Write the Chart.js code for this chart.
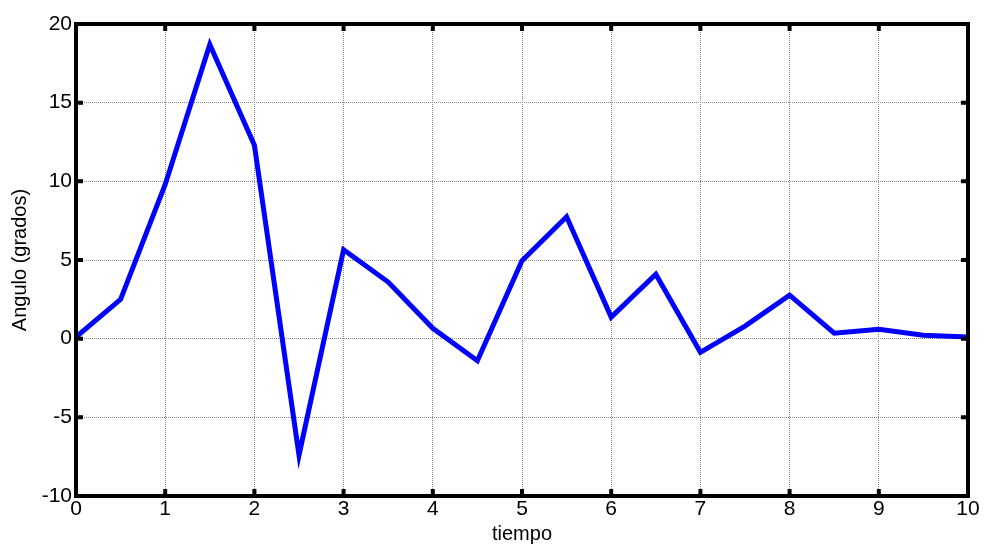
<!DOCTYPE html>
<html>
<head>
<meta charset="utf-8">
<script src="https://cdn.jsdelivr.net/npm/chart.js@4/dist/chart.umd.min.js"></script>
<style>
  html, body { margin: 0; padding: 0; background: #fff; }
  #wrap { width: 984px; height: 546px; }
</style>
</head>
<body>
<div id="wrap"><canvas id="c" width="984" height="546"></canvas></div>
<script>
// tiempo (s) and angle (degrees)
const tiempo = [0, 0.5, 1, 1.5, 2, 2.5, 3, 3.5, 4, 4.5, 5, 5.5, 6, 6.5, 7, 7.5, 8, 8.5, 9, 9.5, 10];
const angulo = [0.1, 2.5, 9.8, 18.7, 12.3, -7.4, 5.65, 3.6, 0.66, -1.4, 4.95, 7.75, 1.37, 4.1, -0.87, 0.8, 2.77, 0.35, 0.6, 0.22, 0.1];
const xTicks = [0, 1, 2, 3, 4, 5, 6, 7, 8, 9, 10];
const yTicks = [-10, -5, 0, 5, 10, 15, 20];

const FONT = 'Liberation Sans, Arial, sans-serif';

/* frame + inward tick marks, matlab style */
const framePlugin = {
  id: 'frame',
  afterDraw(chart) {
    const { ctx, chartArea: a, scales } = chart;
    ctx.save();
    ctx.strokeStyle = '#000';
    ctx.lineWidth = 4;
    const tl = 7;
    xTicks.forEach(v => {
      const px = scales.x.getPixelForValue(v);
      ctx.beginPath();
      ctx.moveTo(px, a.bottom); ctx.lineTo(px, a.bottom - tl);
      ctx.moveTo(px, a.top); ctx.lineTo(px, a.top + tl);
      ctx.stroke();
    });
    yTicks.forEach(v => {
      const py = scales.y.getPixelForValue(v);
      ctx.beginPath();
      ctx.moveTo(a.left, py); ctx.lineTo(a.left + tl, py);
      ctx.moveTo(a.right, py); ctx.lineTo(a.right - tl, py);
      ctx.stroke();
    });
    ctx.lineWidth = 4;
    ctx.strokeRect(a.left, a.top, a.right - a.left, a.bottom - a.top);
    ctx.restore();
  }
};

new Chart(document.getElementById('c'), {
  type: 'scatter',
  data: {
    datasets: [{
      data: tiempo.map((t, i) => ({ x: t, y: angulo[i] })),
      showLine: true,
      borderColor: '#0000ff',
      borderWidth: 5,
      borderJoinStyle: 'miter',
      pointRadius: 0,
      tension: 0
    }]
  },
  options: {
    responsive: false,
    animation: false,
    layout: { padding: { top: 24, right: 16, left: 0, bottom: 0 } },
    plugins: { legend: { display: false }, tooltip: { enabled: false } },
    scales: {
      x: {
        type: 'linear', min: 0, max: 10,
        afterBuildTicks: s => { s.ticks = xTicks.map(v => ({ value: v })); },
        afterFit: s => { s.height = 50; },
        grid: { color: '#8a8a8a', lineWidth: 1, drawTicks: false },
        border: { display: false, dash: [1, 1] },
        ticks: { color: '#000', font: { family: FONT, size: 21 }, padding: 1, maxRotation: 0 },
        title: { display: true, text: 'tiempo', color: '#000', font: { family: FONT, size: 20 }, padding: { top: -6, bottom: 0 } }
      },
      y: {
        min: -10, max: 20,
        afterBuildTicks: s => { s.ticks = yTicks.map(v => ({ value: v })); },
        afterFit: s => { s.width = 76; },
        grid: { color: '#8a8a8a', lineWidth: 1, drawTicks: false },
        border: { display: false, dash: [1, 1] },
        ticks: { color: '#000', font: { family: FONT, size: 21 }, padding: 4 },
        title: { display: true, text: 'Angulo (grados)', color: '#000', font: { family: FONT, size: 20 }, padding: { top: 8, bottom: 0 } }
      }
    }
  },
  plugins: [framePlugin]
});
</script>
</body>
</html>
